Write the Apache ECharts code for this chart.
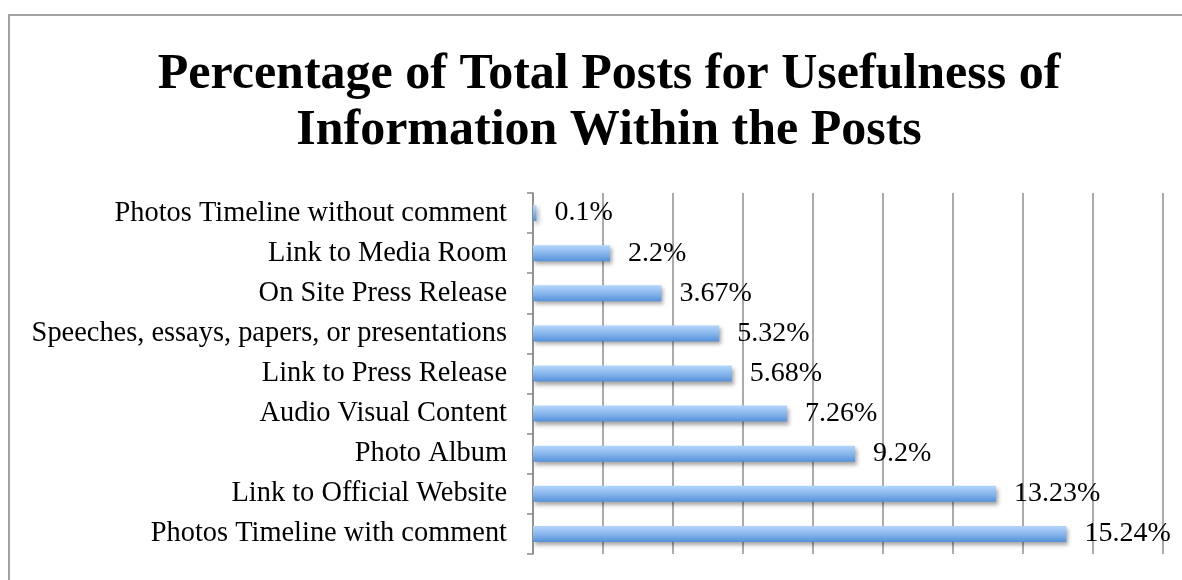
<!DOCTYPE html>
<html>
<head>
<meta charset="utf-8">
<script src="https://cdn.jsdelivr.net/npm/echarts@6/dist/echarts.min.js"></script>
<style>
  html, body { margin: 0; padding: 0; background: #ffffff; }
  #chart { width: 1182px; height: 580px; }
</style>
</head>
<body>
<div id="chart"></div>
<script>
// Categories listed bottom to top (ECharts category y-axis starts at the bottom)
const categories = [
  'Photos Timeline with comment',
  'Link to Official Website',
  'Photo Album',
  'Audio Visual Content',
  'Link to Press Release',
  'Speeches, essays, papers, or presentations',
  'On Site Press Release',
  'Link to Media Room',
  'Photos Timeline without comment'
];
// Percentage of total posts for each category
const percentages = [15.24, 13.23, 9.2, 7.26, 5.68, 5.32, 3.67, 2.2, 0.1];

const titleText = 'Percentage of Total Posts for Usefulness of\nInformation Within the Posts';
const serif = '"Liberation Serif", "DejaVu Serif", serif';

const chart = echarts.init(document.getElementById('chart'), null, { renderer: 'canvas' });

chart.setOption({
  backgroundColor: '#ffffff',
  animation: false,
  title: {
    text: titleText,
    left: 604,
    top: 42,
    textAlign: 'center',
    textStyle: {
      fontFamily: serif,
      fontWeight: 'bold',
      fontSize: 50,
      lineHeight: 56,
      color: '#000000'
    }
  },
  graphic: [
    {
      type: 'rect',
      shape: { x: 9, y: 15, width: 1200, height: 600 },
      style: { fill: 'none', stroke: '#a3a3a3', lineWidth: 2 },
      silent: true,
      z: -1
    }
  ],
  grid: {
    left: 533,
    right: 19,
    top: 193,
    bottom: 26,
    containLabel: false
  },
  xAxis: {
    type: 'value',
    min: 0,
    max: 18,
    interval: 2,
    axisLine: { show: false },
    axisTick: { show: false },
    axisLabel: { show: false },
    splitLine: { show: true, lineStyle: { color: '#8f8f8f', width: 1.5 } }
  },
  yAxis: {
    type: 'category',
    data: categories,
    axisLine: { show: true, lineStyle: { color: '#8a8a8a', width: 1.5 } },
    axisTick: { show: true, inside: false, length: 6, alignWithLabel: false, lineStyle: { color: '#8a8a8a', width: 1.5 } },
    axisLabel: {
      margin: 26,
      fontFamily: serif,
      fontSize: 28.4,
      color: '#000000'
    },
    splitLine: { show: false }
  },
  series: [
    {
      type: 'bar',
      data: percentages,
      barWidth: 16,
      itemStyle: {
        color: new echarts.graphic.LinearGradient(0, 0, 0, 1, [
          { offset: 0, color: '#b4d5fa' },
          { offset: 0.5, color: '#88b7ed' },
          { offset: 1, color: '#5591d8' }
        ]),
        shadowColor: 'rgba(0, 0, 0, 0.35)',
        shadowBlur: 4,
        shadowOffsetX: 2,
        shadowOffsetY: 3
      },
      label: {
        show: true,
        position: 'right',
        distance: 18,
        fontFamily: serif,
        fontSize: 28,
        color: '#000000',
        formatter: (p) => p.value + '%'
      }
    }
  ]
});
</script>
</body>
</html>
